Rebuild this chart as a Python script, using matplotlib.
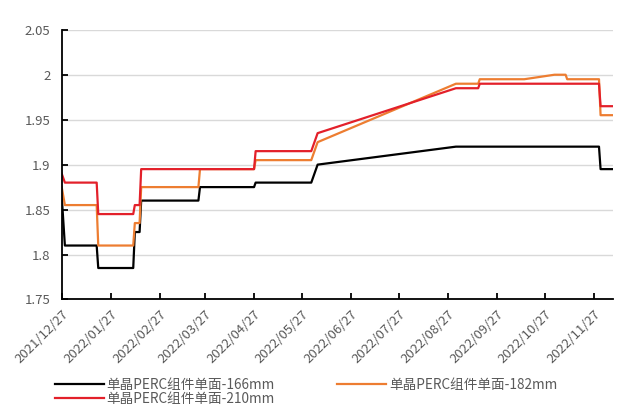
import numpy as np
import pandas as pd
import matplotlib
matplotlib.use('Agg')
import matplotlib.pyplot as plt
import matplotlib.dates as mdates
from matplotlib.ticker import FuncFormatter

plt.rcParams['font.family'] = ['Noto Sans CJK SC', 'DejaVu Sans']

# 单晶PERC组件单面价格 (元/W)
dates_166 = ['2021-12-27', '2021-12-29', '2022-01-18', '2022-01-19', '2022-02-10', '2022-02-11',
             '2022-02-14', '2022-02-15', '2022-03-23', '2022-03-24', '2022-04-27', '2022-04-28',
             '2022-06-02', '2022-06-06', '2022-09-01', '2022-11-30', '2022-12-01', '2022-12-09']
vals_166 = [1.865, 1.81, 1.81, 1.785, 1.785, 1.825,
            1.825, 1.86, 1.86, 1.875, 1.875, 1.88,
            1.88, 1.90, 1.92, 1.92, 1.895, 1.895]

dates_182 = ['2021-12-27', '2021-12-29', '2022-01-18', '2022-01-19', '2022-02-10', '2022-02-11',
             '2022-02-14', '2022-02-15', '2022-03-23', '2022-03-24', '2022-04-27', '2022-04-28',
             '2022-06-02', '2022-06-06', '2022-09-01', '2022-09-15', '2022-09-16', '2022-10-14',
             '2022-11-02', '2022-11-09', '2022-11-10', '2022-11-30', '2022-12-01', '2022-12-09']
vals_182 = [1.875, 1.855, 1.855, 1.81, 1.81, 1.835,
            1.835, 1.875, 1.875, 1.895, 1.895, 1.905,
            1.905, 1.925, 1.99, 1.99, 1.995, 1.995,
            2.0, 2.0, 1.995, 1.995, 1.955, 1.955]

dates_210 = ['2021-12-27', '2021-12-29', '2022-01-18', '2022-01-19', '2022-02-10', '2022-02-11',
             '2022-02-14', '2022-02-15', '2022-04-27', '2022-04-28', '2022-06-02', '2022-06-06',
             '2022-09-01', '2022-09-15', '2022-09-16', '2022-11-30', '2022-12-01', '2022-12-09']
vals_210 = [1.89, 1.88, 1.88, 1.845, 1.845, 1.855,
            1.855, 1.895, 1.895, 1.915, 1.915, 1.935,
            1.985, 1.985, 1.99, 1.99, 1.965, 1.965]

tick_dates = ['2021-12-27', '2022-01-27', '2022-02-27', '2022-03-27', '2022-04-27', '2022-05-27',
              '2022-06-27', '2022-07-27', '2022-08-27', '2022-09-27', '2022-10-27', '2022-11-27']

labels = ['单晶PERC组件单面-166mm', '单晶PERC组件单面-182mm', '单晶PERC组件单面-210mm']
colors = ['#000000', '#ED7D31', '#E3202A']

fig = plt.figure(figsize=(6.17, 4.08), dpi=100)
ax = fig.add_axes([0.1, 0.266, 0.894, 0.661])

l166, = ax.plot(pd.to_datetime(dates_166), vals_166, color=colors[0], lw=1.6, label=labels[0])
l182, = ax.plot(pd.to_datetime(dates_182), vals_182, color=colors[1], lw=1.6, label=labels[1])
l210, = ax.plot(pd.to_datetime(dates_210), vals_210, color=colors[2], lw=1.6, label=labels[2])

ax.set_ylim(1.75, 2.05)
ax.set_yticks(np.arange(1.75, 2.051, 0.05))
ax.yaxis.set_major_formatter(FuncFormatter(lambda v, p: f'{v:g}'))
ax.set_xlim(pd.Timestamp('2021-12-27'), pd.Timestamp('2022-12-09'))
ax.set_xticks(pd.to_datetime(tick_dates))
ax.xaxis.set_major_formatter(mdates.DateFormatter('%Y/%m/%d'))

ax.grid(axis='y', color='#d9d9d9', lw=1)
ax.set_axisbelow(True)
for s in ['top', 'right']:
    ax.spines[s].set_visible(False)
for s in ['left', 'bottom']:
    ax.spines[s].set_linewidth(1.3)
ax.tick_params(axis='both', direction='in', length=4, width=1.3, labelcolor='#595959', labelsize=9.5)
ax.tick_params(axis='y', pad=8)
ax.tick_params(axis='x', pad=6)
plt.setp(ax.get_xticklabels(), rotation=45, ha='right', rotation_mode='anchor')

fig.legend(handles=[l166, l210, l182], labels=[labels[0], labels[2], labels[1]],
           ncol=2, frameon=False, loc='lower left', bbox_to_anchor=(0.069, -0.025),
           fontsize=9.8, handlelength=3.6, columnspacing=4.6, labelspacing=0.0,
           handletextpad=0.2, labelcolor='#595959')

fig.savefig('out.png', dpi=100)
